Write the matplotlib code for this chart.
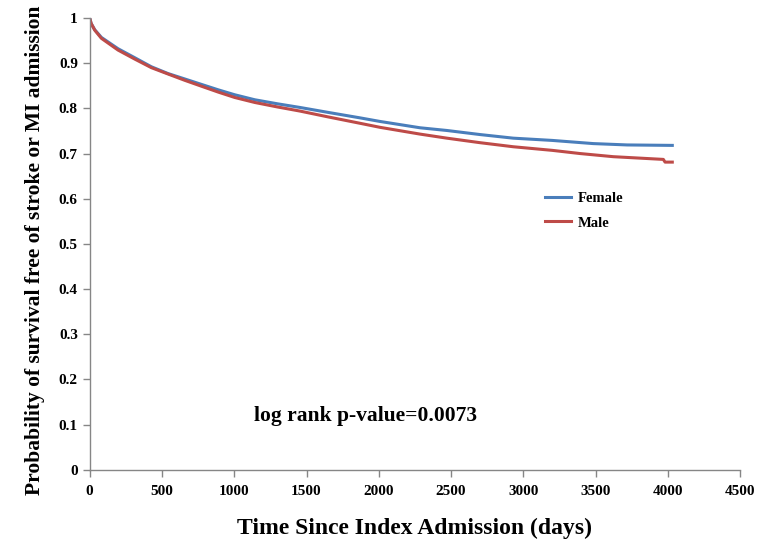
import matplotlib.pyplot as plt

# values
female_days = [0, 10, 35, 81, 196, 312, 427, 542, 658, 773, 889, 1004, 1142, 1300, 1454,
               1650, 1869, 2008, 2285, 2471, 2700, 2930, 3200, 3483, 3718, 4030]
female_surv = [1.0, 0.988, 0.974, 0.957, 0.932, 0.912, 0.892, 0.877, 0.865, 0.853, 0.841, 0.830,
               0.819, 0.810, 0.802, 0.791, 0.779, 0.771, 0.757, 0.751, 0.742, 0.734, 0.729,
               0.722, 0.719, 0.718]
male_days = [0, 10, 35, 81, 196, 312, 427, 542, 658, 773, 889, 1004, 1142, 1300, 1454,
             1650, 1869, 2008, 2285, 2471, 2700, 2930, 3200, 3391, 3622, 3968, 3980, 4030]
male_surv = [1.0, 0.988, 0.973, 0.955, 0.929, 0.909, 0.890, 0.876, 0.862, 0.849, 0.836, 0.824,
             0.813, 0.803, 0.794, 0.781, 0.767, 0.758, 0.743, 0.734, 0.724, 0.715, 0.707,
             0.700, 0.693, 0.687, 0.681, 0.681]
x_ticks = [0, 500, 1000, 1500, 2000, 2500, 3000, 3500, 4000, 4500]
y_ticks = [0, 0.1, 0.2, 0.3, 0.4, 0.5, 0.6, 0.7, 0.8, 0.9, 1]
y_labels = ['0', '0.1', '0.2', '0.3', '0.4', '0.5', '0.6', '0.7', '0.8', '0.9', '1']

plt.rcParams['font.family'] = ['Liberation Serif', 'DejaVu Serif']
plt.rcParams['font.weight'] = 'bold'

fig = plt.figure(figsize=(7.6, 5.45), dpi=100)
ax = fig.add_axes([0.118, 0.138, 0.856, 0.829])

ax.plot(female_days, female_surv, color='#4A7EBB', lw=2.2, label='Female')
ax.plot(male_days, male_surv, color='#BE4B48', lw=2.2, label='Male')

ax.set_xlim(0, 4500)
ax.set_ylim(0, 1)
ax.set_xticks(x_ticks)
ax.set_yticks(y_ticks)
ax.set_yticklabels(y_labels)
for lab in ax.get_xticklabels() + ax.get_yticklabels():
    lab.set_fontweight('bold')
ax.tick_params(axis='both', labelsize=11, color='#868686', length=5, width=1)
ax.tick_params(axis='x', pad=6)

for s in ['top', 'right']:
    ax.spines[s].set_visible(False)
for s in ['left', 'bottom']:
    ax.spines[s].set_color('#868686')
    ax.spines[s].set_linewidth(1)

ax.set_xlabel('Time Since Index Admission (days)', fontsize=17, fontweight='bold', labelpad=14)
ax.set_ylabel('Probability of survival free of stroke or MI admission', fontsize=15.5,
              fontweight='bold')
ax.yaxis.set_label_coords(-0.068, 0.485)

ax.text(1135, 0.12, 'log rank p-value=0.0073', fontsize=15.5, fontweight='bold',
        ha='left', va='center')

leg = ax.legend(loc='upper left', bbox_to_anchor=(0.68, 0.645), frameon=False,
                handlelength=1.8, fontsize=10.5, labelspacing=0.8, handletextpad=0.4)
for t in leg.get_texts():
    t.set_fontweight('bold')

fig.savefig('out.png', dpi=100)
